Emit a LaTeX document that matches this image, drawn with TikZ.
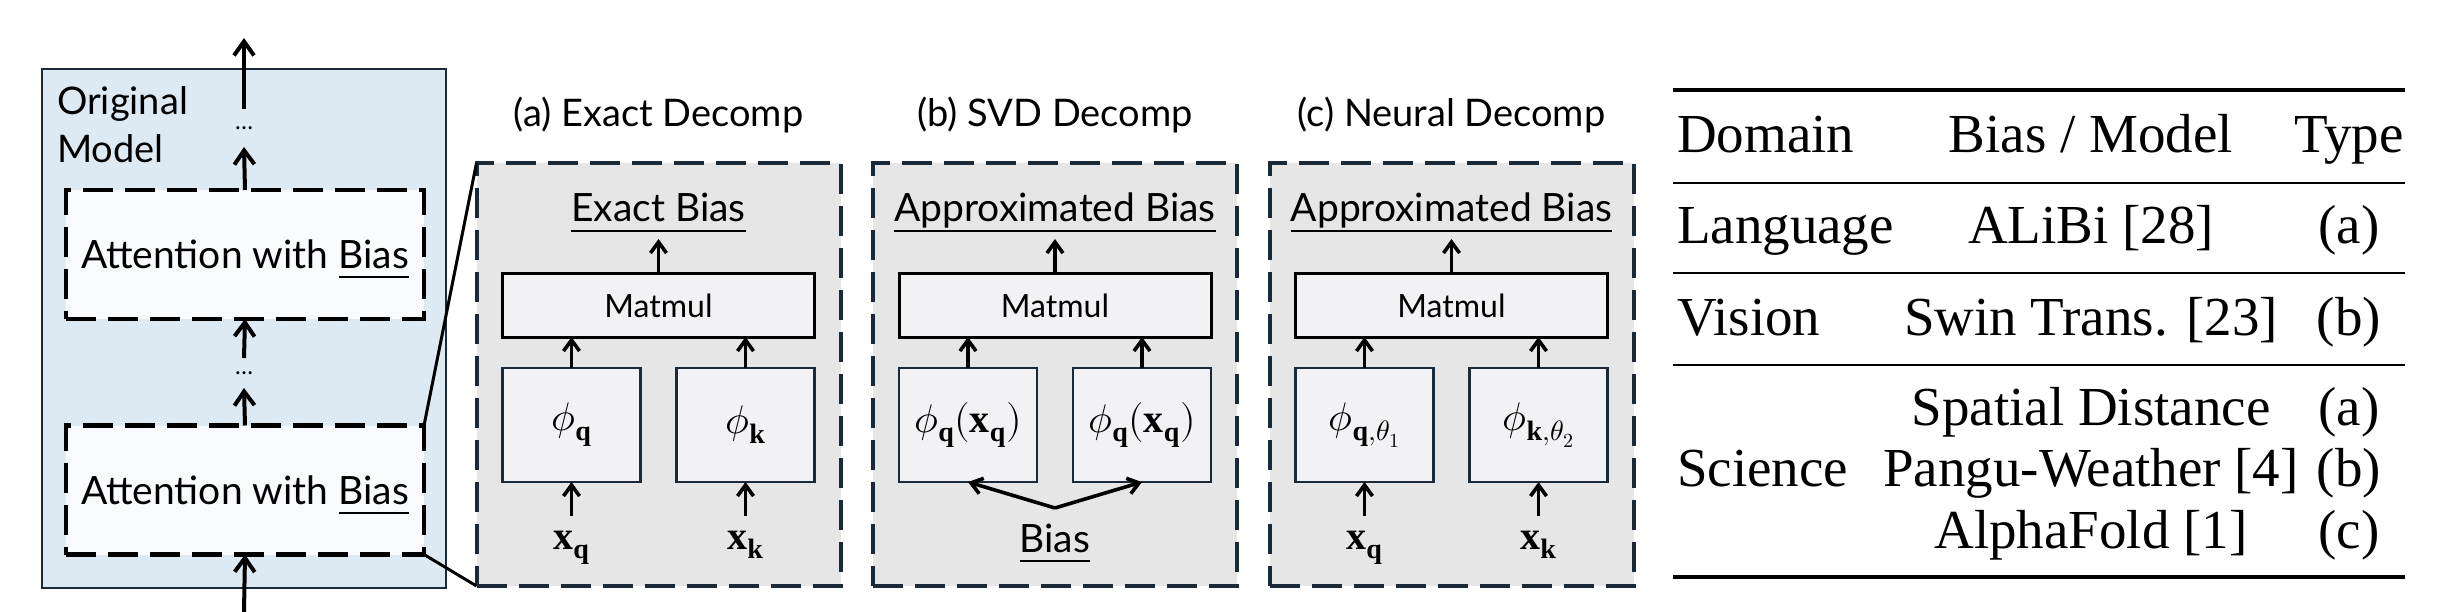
\documentclass[tikz,border=0pt]{standalone}
\usepackage{fontspec}
\usepackage{unicode-math}
\setmainfont{Liberation Serif}
\setmathfont{Latin Modern Math}
\newfontfamily\aptos{Lato}
\usetikzlibrary{arrows.meta}
\definecolor{bluefill}{HTML}{DDEAF4}
\definecolor{navy}{HTML}{1A2A38}
\definecolor{attfill}{HTML}{F8FAFD}
\definecolor{panelfill}{HTML}{E6E6E6}
\definecolor{innerfill}{HTML}{F2F2F4}
\newcommand{\ulword}[1]{\setbox0\hbox{#1}\rlap{\rule[-10pt]{\wd0}{2pt}}\box0}
\newcommand{\fOrig}{\aptos\fontsize{38}{48}\selectfont}
\newcommand{\fAtt}{\aptos\fontsize{39}{47}\selectfont}
\newcommand{\fTitle}{\aptos\fontsize{38}{46}\selectfont}
\newcommand{\fLab}{\aptos\fontsize{39}{47}\selectfont}
\newcommand{\fMM}{\aptos\fontsize{32}{38}\selectfont}
\newcommand{\fDots}{\aptos\fontsize{24}{28}\selectfont}
\newcommand{\fMath}{\fontsize{40}{46}\selectfont}
\newcommand{\fTab}{\fontsize{55}{62}\selectfont}
\begin{document}
\begin{tikzpicture}[x=1pt,y=-1pt,
  every node/.style={inner sep=0pt, outer sep=0pt},
  arrbig/.style={line width=4pt, -{Straight Barb[length=14pt,width=20pt]}},
  arr/.style={line width=3.6pt, -{Straight Barb[length=11pt,width=16pt]}},
  origbox/.style={draw=navy, line width=2.5pt, fill=bluefill, minimum width=404pt, minimum height=519pt},
  attbox/.style={draw=black, dash pattern=on 30pt off 12pt, line width=4.5pt, fill=attfill,
    minimum width=358pt, minimum height=129pt, font=\fAtt, text height=30pt, text depth=2pt},
  panel/.style={draw=navy, dash pattern=on 30pt off 12pt, line width=4pt, fill=panelfill,
    minimum width=364pt, minimum height=423pt},
  mmbox/.style={draw=black, line width=3pt, fill=innerfill, minimum width=312pt, minimum height=63pt, font=\fMM},
  phibox/.style={draw=navy, line width=2.5pt, fill=innerfill, minimum width=138pt, minimum height=114pt, font=\fMath},
  xlab/.style={anchor=base, text height=33pt, font=\fMath},
  title/.style={anchor=base, font=\fTitle},
  toplab/.style={anchor=base, font=\fLab},
  zoomline/.style={line width=3pt},
  tab/.style={anchor=base, font=\fTab},
  tabw/.style={anchor=base west, font=\fTab},
  thickrule/.style={line width=4pt},
  thinrule/.style={line width=2.6pt}
]
\useasboundingbox (0,0) rectangle (2462,612);

% ---------------- Original model ----------------
\node[origbox] (orig) at (244,328.5) {};
\node[font=\fOrig, align=left, anchor=north west] (origlabel) at (57,87) {Original\\Model};
\node[attbox] (att1) at (245,254.5) {Attention with \ulword{Bias}};
\node[attbox] (att2) at (245,490) {Attention with \ulword{Bias}};
\node[font=\fDots, minimum height=38pt] (dots1) at (244,128) {\ldots};
\node[font=\fDots, minimum height=30pt] (dots2) at (244,373) {\ldots};
\coordinate (topend) at (244,38);
\coordinate (botstart) at (244,612);
\draw[arrbig] (dots1.north) -- (topend);
\draw[arrbig] (att1.north) -- (dots1.south);
\draw[arrbig] (dots2.north) -- (att1.south);
\draw[arrbig] (att2.north) -- (dots2.south);
\draw[arrbig] (botstart) -- (att2.south);

% ---------------- Panel (a) ----------------
\node[panel] (pa) at (658.5,374.5) {};
\node[title] (ta) at (658.5,127) {(a) Exact Decomp};
\node[toplab] (la) at (658.5,222) {\ulword{Exact Bias}};
\node[mmbox] (ma) at (658.5,305.5) {Matmul};
\node[phibox] (pqa) at (571.5,425) {$\phi_{\mathbf{q}}$};
\node[phibox] (pka) at (745.5,425) {$\phi_{\mathbf{k}}$};
\node[xlab] (xqa) at (571.5,549) {$\mathbf{x}_{\mathbf{q}}$};
\node[xlab] (xka) at (745.5,549) {$\mathbf{x}_{\mathbf{k}}$};
\draw[arr, shorten >=7pt] (ma.north) -- (la.south);
\draw[arr] (pqa.north) -- (pqa.north |- ma.south);
\draw[arr] (pka.north) -- (pka.north |- ma.south);
\draw[arr] (xqa.north) -- (pqa.south);
\draw[arr] (xka.north) -- (pka.south);

% zoom lines
\draw[zoomline] (att2.north east) -- (pa.north west);
\draw[zoomline] (att2.south east) -- (pa.south west);

% ---------------- Panel (b) ----------------
\node[panel] (pb) at (1055,374.5) {};
\node[title] (tb) at (1055,127) {(b) SVD Decomp};
\node[toplab] (lb) at (1055,222) {\ulword{Approximated Bias}};
\node[mmbox] (mb) at (1055,305.5) {Matmul};
\node[phibox] (pqb) at (968,425) {$\phi_{\mathbf{q}}(\mathbf{x}_{\mathbf{q}})$};
\node[phibox] (pkb) at (1142,425) {$\phi_{\mathbf{q}}(\mathbf{x}_{\mathbf{q}})$};
\node[toplab] (biasb) at (1055,552) {\ulword{Bias}};
\coordinate (bj) at (1055,508);
\draw[arr, shorten >=7pt] (mb.north) -- (lb.south);
\draw[arr] (pqb.north) -- (pqb.north |- mb.south);
\draw[arr] (pkb.north) -- (pkb.north |- mb.south);
\draw[arr] (bj) -- (pqb.south);
\draw[arr] (bj) -- (pkb.south);

% ---------------- Panel (c) ----------------
\node[panel] (pc) at (1451.5,374.5) {};
\node[title] (tc) at (1451.5,127) {(c) Neural Decomp};
\node[toplab] (lc) at (1451.5,222) {\ulword{Approximated Bias}};
\node[mmbox] (mc) at (1451.5,305.5) {Matmul};
\node[phibox] (pqc) at (1364.5,425) {$\phi_{\mathbf{q},\theta_1}$};
\node[phibox] (pkc) at (1538.5,425) {$\phi_{\mathbf{k},\theta_2}$};
\node[xlab] (xqc) at (1364.5,549) {$\mathbf{x}_{\mathbf{q}}$};
\node[xlab] (xkc) at (1538.5,549) {$\mathbf{x}_{\mathbf{k}}$};
\draw[arr, shorten >=7pt] (mc.north) -- (lc.south);
\draw[arr] (pqc.north) -- (pqc.north |- mc.south);
\draw[arr] (pkc.north) -- (pkc.north |- mc.south);
\draw[arr] (xqc.north) -- (pqc.south);
\draw[arr] (xkc.north) -- (pkc.south);

% ---------------- Table ----------------
\draw[thickrule] (1673,90) -- (2405,90);
\draw[thinrule] (1673,183) -- (2405,183);
\draw[thinrule] (1673,273) -- (2405,273);
\draw[thinrule] (1673,365) -- (2405,365);
\draw[thickrule] (1673,577) -- (2405,577);

\node[tabw] (hdom) at (1677,153) {Domain};
\node[tab] (hbias) at (2091,153) {Bias / Model};
\node[tab] (htype) at (2349,153) {Type};

\node[tabw] (dlang) at (1677,244) {Language};
\node[tab] (mlang) at (2091,244) {ALiBi [28]};
\node[tab] (tlang) at (2349,244) {(a)};

\node[tabw] (dvis) at (1677,335) {Vision};
\node[tab] (mvis) at (2091,335) {Swin Trans. [23]};
\node[tab] (tvis) at (2349,335) {(b)};

\node[tabw] (dsci) at (1677,486) {Science};
\node[tab] (msci1) at (2091,425) {Spatial Distance};
\node[tab] (tsci1) at (2349,425) {(a)};
\node[tab] (msci2) at (2091,486) {Pangu-Weather [4]};
\node[tab] (tsci2) at (2349,486) {(b)};
\node[tab] (msci3) at (2091,548) {AlphaFold [1]};
\node[tab] (tsci3) at (2349,548) {(c)};
\end{tikzpicture}
\end{document}
